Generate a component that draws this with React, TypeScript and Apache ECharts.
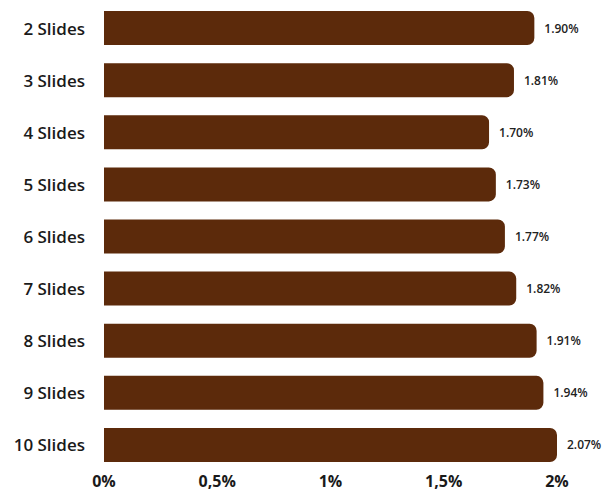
import React, { useEffect, useRef } from "react";
import * as echarts from "echarts";

const categories = ["2 Slides", "3 Slides", "4 Slides", "5 Slides", "6 Slides", "7 Slides", "8 Slides", "9 Slides", "10 Slides"];
const values = [1.9, 1.81, 1.7, 1.73, 1.77, 1.82, 1.91, 1.94, 2.07];
const axisMax = 2;
const tickLabels: Record<string, string> = { "0": "0%", "0.5": "0,5%", "1": "1%", "1.5": "1,5%", "2": "2%" };

export default function App() {
  const ref = useRef<HTMLDivElement>(null);
  useEffect(() => {
    if (!ref.current) return;
    const chart = echarts.init(ref.current, undefined, { renderer: "svg" });
    chart.setOption({
      animation: false,
      grid: { left: 104, right: 45, top: 2, bottom: 21, containLabel: false },
      xAxis: {
        type: "value",
        min: 0,
        max: axisMax,
        interval: 0.5,
        splitLine: { show: false },
        axisLine: { show: false },
        axisTick: { show: false },
        axisLabel: {
          margin: 2,
          fontFamily: "Open Sans",
          fontWeight: "bold",
          fontSize: 16,
          lineHeight: 16,
          color: "#1a1a1a",
          formatter: (v: number) => tickLabels[String(v)] ?? "",
        },
      },
      yAxis: {
        type: "category",
        inverse: true,
        data: categories,
        axisLine: { show: false },
        axisTick: { show: false },
        axisLabel: {
          margin: 19,
          fontFamily: "Open Sans",
          fontWeight: 600,
          fontSize: 17,
          color: "#1a1a1a",
        },
      },
      series: [
        {
          type: "bar",
          barWidth: 34,
          data: values.map((v) => Math.min(v, axisMax)),
          itemStyle: { color: "#5c2a0b", borderRadius: [0, 7, 7, 0] },
          label: {
            show: true,
            position: "right",
            distance: 10,
            fontFamily: "Open Sans",
            fontWeight: 600,
            fontSize: 12,
            color: "#222",
            formatter: (p: any) => values[p.dataIndex].toFixed(2) + "%",
          },
        },
      ],
    });
    return () => chart.dispose();
  }, []);
  return <div ref={ref} style={{ width: 602, height: 492, position: "absolute", left: 0, top: 0 }} />;
}
